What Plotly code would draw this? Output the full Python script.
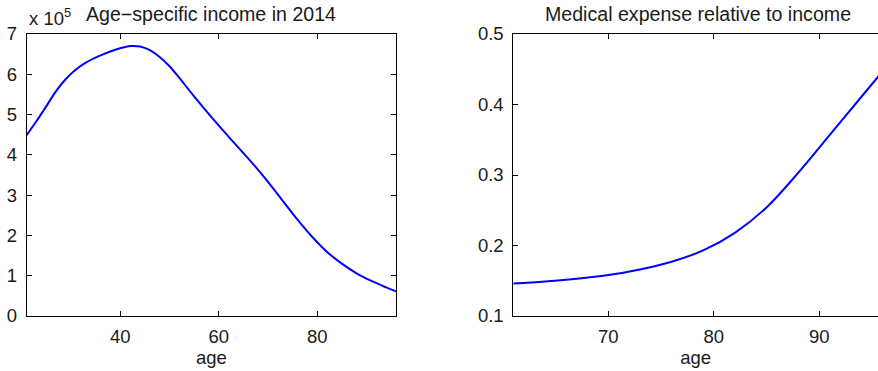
import plotly.graph_objects as go

# Left panel: age-specific income in 2014 (units of 1e5)
income_age = [21, 23, 25, 27, 29, 31, 33, 36, 39, 42, 44, 46, 48, 50, 52, 55, 58, 61, 64, 67, 70, 73,
              76, 79, 82, 85, 88, 91, 94, 96]
income_val = [4.49, 4.84, 5.21, 5.59, 5.89, 6.12, 6.29, 6.47, 6.61, 6.70, 6.69, 6.60, 6.43, 6.20, 5.91,
              5.45, 5.01, 4.59, 4.18, 3.77, 3.33, 2.86, 2.39, 1.96, 1.59, 1.30, 1.06, 0.87, 0.71, 0.61]

# Right panel: medical expense relative to income
med_age = [61, 64, 67, 70, 73, 76, 79, 82, 85, 88, 91, 94, 96]
med_val = [0.146, 0.149, 0.153, 0.158, 0.166, 0.177, 0.193, 0.218, 0.254, 0.303, 0.357, 0.411, 0.447]

left_xticks = [40, 60, 80]
left_yticks = [0, 1, 2, 3, 4, 5, 6, 7]
right_xticks = [70, 80, 90]
right_yticks = [0.1, 0.2, 0.3, 0.4, 0.5]
right_yticklabels = ["0.1", "0.2", "0.3", "0.4", "0.5"]

W, H = 878, 371
FONT = "Liberation Sans, Arial, Helvetica, sans-serif"
FS = 18.5
TFS = 19.6
TXT = "#1a1a1a"

fig = go.Figure()
fig.add_trace(go.Scatter(x=income_age, y=income_val, mode="lines",
                         line=dict(color="#0000ff", width=2, shape="spline", smoothing=1.0),
                         xaxis="x", yaxis="y", showlegend=False))
fig.add_trace(go.Scatter(x=med_age, y=med_val, mode="lines",
                         line=dict(color="#0000ff", width=2, shape="spline", smoothing=1.0),
                         xaxis="x2", yaxis="y2", showlegend=False))

axis_common = dict(showgrid=False, zeroline=False, showline=True, linecolor="black", linewidth=1,
                   ticks="inside", ticklen=5, tickcolor="black", tickwidth=1, automargin=False,
                   tickfont=dict(family=FONT, size=FS, color=TXT))

L0, L1 = 26.7 / W, 396 / W
R0 = 513.3 / W
right_end = 61 + (W - 513.3) / 10.55

fig.update_layout(
    width=W, height=H,
    margin=dict(l=0, r=0, t=34, b=55, pad=0),
    paper_bgcolor="white", plot_bgcolor="white",
    font=dict(family=FONT, size=FS, color=TXT),
    xaxis=dict(domain=[L0, L1], range=[21, 96], tickvals=left_xticks, mirror="ticks", anchor="y",
               ticklabelstandoff=4,
               title=dict(text="age", font=dict(family=FONT, size=FS, color=TXT), standoff=4), **axis_common),
    yaxis=dict(domain=[0, 1], range=[0, 7], tickvals=left_yticks, mirror="ticks", anchor="x",
               ticklabelstandoff=5, **axis_common),
    xaxis2=dict(domain=[R0, 1.0], range=[61, right_end], tickvals=right_xticks, mirror="ticks", anchor="y2",
                ticklabelstandoff=4,
                title=dict(text="age", font=dict(family=FONT, size=FS, color=TXT), standoff=4), **axis_common),
    yaxis2=dict(domain=[0, 1], range=[0.1, 0.5], tickvals=right_yticks, ticktext=right_yticklabels,
                mirror=False, anchor="x2", ticklabelstandoff=5, **axis_common),
)

ph = H - 34 - 55
fig.add_annotation(text="Age\u2212specific income in 2014", xref="paper", yref="paper",
                   x=(L0 + L1) / 2, y=1 + 20 / ph, xanchor="center", yanchor="middle", showarrow=False,
                   font=dict(family=FONT, size=TFS, color=TXT))
fig.add_annotation(text="Medical expense relative to income", xref="paper", yref="paper",
                   x=698 / W, y=1 + 20 / ph, xanchor="center", yanchor="middle", showarrow=False,
                   font=dict(family=FONT, size=TFS, color=TXT))
fig.add_annotation(text="x 10<sup>5</sup>", xref="paper", yref="paper",
                   x=L0, y=1 + 17 / ph, xanchor="left", yanchor="middle", showarrow=False,
                   font=dict(family=FONT, size=FS, color=TXT))

fig.write_html("out.html", config={"displayModeBar": False},
               post_script="document.body.style.margin='0';document.body.style.overflow='hidden';")
